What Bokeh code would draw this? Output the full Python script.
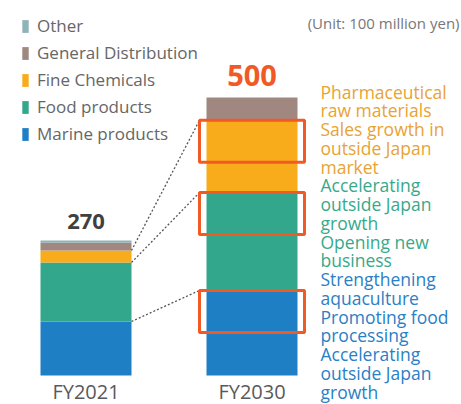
import numpy as np
from bokeh.plotting import figure
from bokeh.models import Range1d, ColumnDataSource, Legend, LegendItem
from bokeh.core.properties import value
from bokeh.embed import file_html
from bokeh.resources import INLINE

# ---------------- data ----------------
years = ["FY2021", "FY2030"]
segments = ["Marine products", "Food products", "Fine Chemicals", "General Distribution", "Other"]  # bottom -> top
fy2021 = [108, 118, 24, 16, 4]
fy2030 = [153, 176, 130, 41, 0]
totals = ["270", "500"]
seg_colors = ["#1f7fc5", "#33a78c", "#f9ac1b", "#a08880", "#8eb4b9"]
highlighted = [0, 1, 2]  # Marine, Food, Fine Chemicals
note_lines = ["Pharmaceutical", "raw materials", "Sales growth in", "outside Japan", "market",
              "Accelerating", "outside Japan", "growth", "Opening new", "business",
              "Strengthening", "aquaculture", "Promoting food", "processing", "Accelerating",
              "outside Japan", "growth"]
note_segment = [2] * 5 + [1] * 5 + [0] * 7
note_colors_by_seg = {2: "#e8a334", 1: "#37a98b", 0: "#2a80c6"}
unit_label = "(Unit: 100 million yen)"

# ---------------- layout ----------------
W, H = 461, 404
FONT = "Open Sans"
ppu21 = 0.5      # px per unit, FY2021 bar
ppu30 = 0.556    # px per unit, FY2030 bar (drawn schematic)
base_px = 29
pitch_px = 166
left_px = 85.5
bar_w = 91 / pitch_px
box_half = 52.5 / pitch_px
box_h_px = 42
RED = "#f15a24"

p = figure(width=W, height=H, output_backend="svg", toolbar_location=None,
           x_range=Range1d(-left_px / pitch_px, (W - left_px) / pitch_px),
           y_range=Range1d(-base_px / ppu21, (H - base_px) / ppu21),
           x_axis_location=None, y_axis_location=None, min_border=0,
           outline_line_color=None)
p.grid.visible = False
p.extra_y_ranges = {"fy2030": Range1d(-base_px / ppu30, (H - base_px) / ppu30),
                    "px": Range1d(H, 0)}
p.extra_x_ranges = {"px": Range1d(0, W)}

src21 = ColumnDataSource({"x": [0], **{s: [v] for s, v in zip(segments, fy2021)}})
src30 = ColumnDataSource({"x": [1], **{s: [v] for s, v in zip(segments, fy2030)}})
r21 = p.vbar_stack(segments, x="x", width=bar_w, source=src21, color=seg_colors, line_color=None)
r30 = p.vbar_stack(segments, x="x", width=bar_w, source=src30, color=seg_colors, line_color=None,
                   y_range_name="fy2030")

cum21 = np.cumsum(fy2021)
cum30 = np.cumsum(fy2030)

# dotted connectors
p.segment(x0=[bar_w / 2] * len(highlighted),
          y0=[cum21[i] * ppu21 / ppu30 for i in highlighted],
          x1=[1 - box_half] * len(highlighted),
          y1=[cum30[i] for i in highlighted],
          line_color="#555555", line_width=1.3, line_dash="2 2", y_range_name="fy2030")

# highlight boxes
tops = [cum30[i] for i in highlighted]
p.quad(left=1 - box_half, right=1 + box_half, top=tops,
       bottom=[t - box_h_px / ppu30 for t in tops],
       fill_color=None, line_color=RED, line_width=3, y_range_name="fy2030")

# totals
p.text(x=[0], y=[cum21[-1]], text=[totals[0]], text_align="center", text_baseline="middle",
       y_offset=-19, text_font=value(FONT), text_font_size="22px", text_font_style="bold",
       text_color="#404040")
p.text(x=[1], y=[cum30[-1]], text=[totals[1]], text_align="center", text_baseline="middle",
       y_offset=-22, text_font=value(FONT), text_font_size="29px", text_font_style="bold",
       text_color=RED, y_range_name="fy2030")

# year labels
p.text(x=[0, 1], y=[391, 391], text=years, text_align="center", text_baseline="middle",
       text_font=value(FONT), text_font_size="20px", text_color="#595959", y_range_name="px")

# notes
p.text(x=[320] * len(note_lines), y=[91 + i * 18.75 for i in range(len(note_lines))],
       text=note_lines, text_color=[note_colors_by_seg[s] for s in note_segment],
       text_align="left", text_baseline="middle", text_font=value(FONT), text_font_size="17.5px",
       x_range_name="px", y_range_name="px")

# unit
p.text(x=[459], y=[22], text=[unit_label], text_align="right", text_baseline="middle",
       text_font=value(FONT), text_font_size="15px", text_color="#777777",
       x_range_name="px", y_range_name="px")

# legend
items = [LegendItem(label=segments[i], renderers=[r21[i]]) for i in reversed(range(len(segments)))]
legend = Legend(items=items, location=(21, 259), glyph_width=8, glyph_height=16, label_height=16,
                spacing=4, padding=0, margin=0, label_standoff=8, border_line_color=None,
                background_fill_alpha=0, label_text_font=FONT, label_text_font_size="17px",
                label_text_color="#666666")
p.add_layout(legend, "center")

open("out.html", "w").write(file_html(p, INLINE))
